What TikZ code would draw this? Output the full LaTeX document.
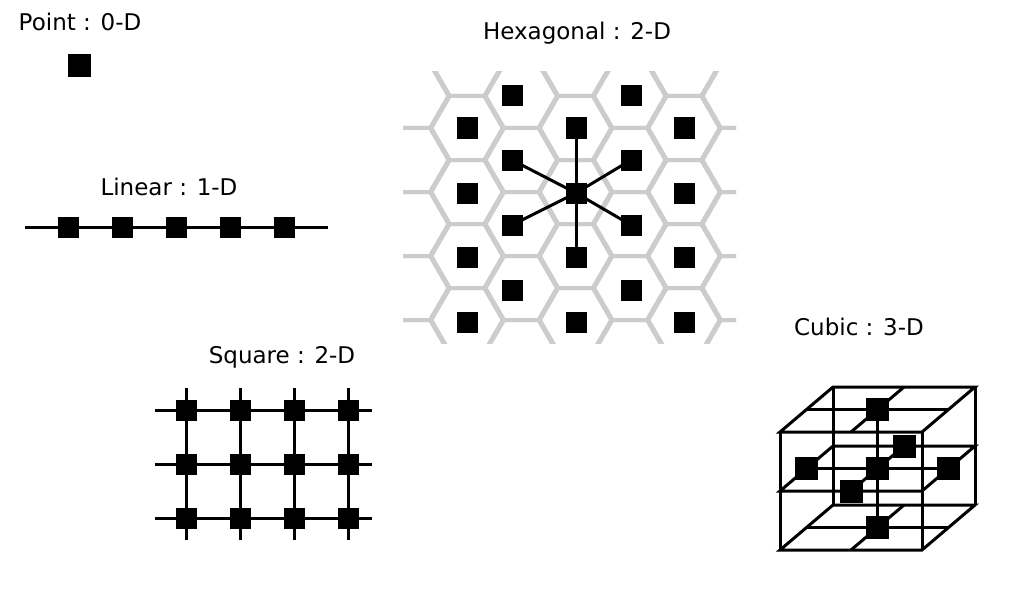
\documentclass[tikz,border=0pt]{standalone}
\usepackage{fontspec}
\setmainfont{DejaVu Sans}
\usetikzlibrary{positioning}

\begin{document}
\begin{tikzpicture}[x=1pt,y=-1pt,line width=3pt,
  dot/.style={fill=black,draw=none,minimum size=21pt,inner sep=0pt},
  bigdot/.style={dot,minimum size=23pt},
  lbl/.style={font=\fontsize{23}{26}\selectfont,inner sep=0pt},
  hexline/.style={draw=black!20,line width=4pt}]
\useasboundingbox (0,0) rectangle (1022,599);

% point
\node[lbl] (tpoint) at (80,22) {Point : 0-D};
\node[bigdot] (p0) at (79,66) {};

% linear
\node[lbl] (tlin) at (169,187) {Linear : 1-D};
\coordinate (l0) at (25,227);
\coordinate (l6) at (328,227);
\draw (l0) -- (l6);
\foreach \i/\x in {1/68,2/122,3/176,4/230,5/284}
  \node[dot] (l\i) at (\x,227) {};

% square
\node[lbl] (tsq) at (282,357) {Square : 2-D};
\foreach \x in {186,240,294,348}
  \draw (\x,388) -- (\x,540);
\foreach \y in {410,464,518}
  \draw (155,\y) -- (372,\y);
\foreach \x in {186,240,294,348}
  \foreach \y in {410,464,518}
    \node[dot] (s\x-\y) at (\x,\y) {};

% hexagonal
\node[lbl] (thex) at (577,33) {Hexagonal : 2-D};
\begin{scope}
\clip (403,72) rectangle (736,343);
\foreach \k/\ys in {-1/32,0/64,1/32,2/64,3/32,4/64,5/32}
  \foreach \j in {0,...,5}
  {
    \pgfmathsetmacro\xx{467+54.25*\k}
    \pgfmathsetmacro\yy{\ys+64*\j}
    \draw[hexline] (\xx-37,\yy) -- (\xx-18.5,\yy-32) -- (\xx+18.5,\yy-32)
      -- (\xx+37,\yy) -- (\xx+18.5,\yy+32) -- (\xx-18.5,\yy+32) -- cycle;
  }
\end{scope}
\foreach \x in {467,576,684}
  \foreach \y in {128,193,257,322}
    \node[dot] (h\x-\y) at (\x,\y) {};
\foreach \x in {512,631}
  \foreach \y in {96,160,225,290}
    \node[dot] (h\x-\y) at (\x,\y) {};
\foreach \n in {576-128,576-257,512-160,631-160,512-225,631-225}
  \draw (h576-193.center) -- (h\n.center);
\node[dot] at (h576-193) {};

% cubic
\node[lbl] (tcub) at (859,327) {Cubic : 3-D};
\begin{scope}[shift={(780,550)},x={(142pt,0pt)},y={(0pt,118pt)},z={(53pt,45pt)}]
\foreach \h in {0,0.5,1}
{
  \draw (0,\h,0) -- (1,\h,0) -- (1,\h,1) -- (0,\h,1) -- cycle;
  \draw (0,\h,0.5) -- (1,\h,0.5);
  \draw (0.5,\h,0) -- (0.5,\h,1);
}
\foreach \a/\b in {0/0,1/0,1/1,0/1}
  \draw (\a,0,\b) -- (\a,1,\b);
\draw (0.5,0,0.5) -- (0.5,1,0.5);
\node[bigdot] (c-top) at (0.5,1,0.5) {};
\node[bigdot] (c-bot) at (0.5,0,0.5) {};
\node[bigdot] (c-mid) at (0.5,0.5,0.5) {};
\node[bigdot] (c-left) at (0,0.5,0.5) {};
\node[bigdot] (c-right) at (1,0.5,0.5) {};
\node[bigdot] (c-front) at (0.5,0.5,0) {};
\node[bigdot] (c-back) at (0.5,0.5,1) {};
\end{scope}
\end{tikzpicture}
\end{document}
